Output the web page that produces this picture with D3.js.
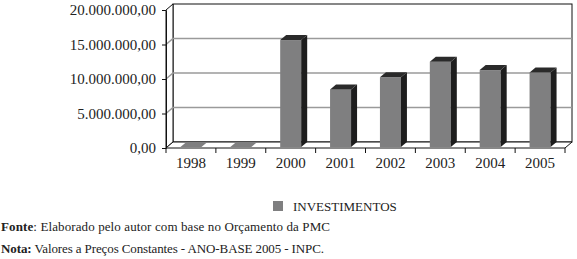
<!DOCTYPE html>
<html>
<head>
<meta charset="utf-8">
<script src="https://cdn.jsdelivr.net/npm/d3@7"></script>
<style>
  body { margin: 0; background: #fff; }
  svg text { font-family: "Liberation Serif", serif; fill: #222; }
</style>
</head>
<body>
<svg id="chart" width="577" height="259"></svg>
<script>
// data
const years = ["1998", "1999", "2000", "2001", "2002", "2003", "2004", "2005"];
const investimentos = [0, 0, 15500000, 8350000, 10100000, 12350000, 11150000, 10800000];
const yTicks = [0, 5000000, 10000000, 15000000, 20000000];
const seriesName = "INVESTIMENTOS";

const svg = d3.select("#chart");

// 3d depth of the walls and of the bars
const DX = 7, DY = -6;
const barDX = 6, barDY = -5;
const barW = 21;

const xScale = d3.scaleBand()
    .domain(years)
    .range([166, 565]);

const yScale = d3.scaleLinear()
    .domain([0, 20000000])
    .range([148, 10]);

const br = d3.formatLocale({decimal: ",", thousands: ".", grouping: [3], currency: ["R$", ""]});
const fmt = br.format(",.2f");

const x0 = xScale.range()[0], x1 = xScale.range()[1];
const y0 = yScale(0), yTop = yScale(20000000);

/***** WALLS *****/
// back wall
svg.append("rect")
    .attr("x", x0 + DX).attr("y", yTop + DY)
    .attr("width", x1 - x0).attr("height", y0 - yTop)
    .attr("fill", "#fff").attr("stroke", "#111").attr("stroke-width", 1);

// left wall
svg.append("polygon")
    .attr("points", [[x0, yTop], [x0 + DX, yTop + DY], [x0 + DX, y0 + DY], [x0, y0]].join(" "))
    .attr("fill", "#fff").attr("stroke", "#111").attr("stroke-width", 1);

// floor
svg.append("polygon")
    .attr("points", [[x0, y0], [x1, y0], [x1 + DX, y0 + DY], [x0 + DX, y0 + DY]].join(" "))
    .attr("fill", "#fff").attr("stroke", "#111").attr("stroke-width", 1);

// gridlines
svg.selectAll(".grid")
    .data(yTicks.filter(t => t > 0 && t < 20000000))
    .join("polyline")
    .attr("class", "grid")
    .attr("points", d => [[x0, yScale(d)], [x0 + DX, yScale(d) + DY], [x1 + DX, yScale(d) + DY]].join(" "))
    .attr("fill", "none").attr("stroke", "#9a9a9a").attr("stroke-width", 1.5);

/***** BARS *****/
const bars = svg.selectAll(".bar")
    .data(years.map((y, i) => ({year: y, value: investimentos[i]})))
    .join("g")
    .attr("class", "bar");

const bx = d => xScale(d.year) + (xScale.bandwidth() - barW) / 2;
const bTop = d => yScale(d.value) - 1;
const bBot = () => yScale(0) - 1;

bars.append("rect")
    .attr("x", bx).attr("y", bTop)
    .attr("width", barW).attr("height", d => bBot() - bTop(d))
    .attr("fill", "#7f7f80");

bars.append("polygon")
    .attr("points", d => {
        const r = bx(d) + barW;
        return [[r, bTop(d)], [r + barDX, bTop(d) + barDY], [r + barDX, bBot() + barDY], [r, bBot()]].join(" ");
    })
    .attr("fill", "#1d1d1d");

bars.append("polygon")
    .attr("points", d => {
        const l = bx(d), r = l + barW, t = bTop(d);
        return [[l, t], [l + barDX, t + barDY], [r + barDX, t + barDY], [r, t]].join(" ");
    })
    .attr("fill", d => d.value === 0 ? "#7f7f80" : "#2a2a2a");

/***** AXES *****/
const yAxis = svg.append("g")
    .attr("transform", `translate(${x0},0)`)
    .call(d3.axisLeft(yScale).tickValues(yTicks).tickFormat(fmt).tickSize(4).tickPadding(6).tickSizeOuter(0));
yAxis.select(".domain").attr("stroke", "#111");
yAxis.selectAll("line").attr("stroke", "#111");
yAxis.selectAll("text").style("font-size", "15px").attr("fill", "#222");

const xAxis = svg.append("g")
    .attr("transform", `translate(0,${y0})`)
    .call(d3.axisBottom(xScale).tickSize(0).tickPadding(9));
xAxis.select(".domain").remove();
xAxis.selectAll("text").style("font-size", "15px").attr("fill", "#222");

// ticks on band edges
svg.selectAll(".xtick")
    .data(years.concat(["end"]))
    .join("line")
    .attr("class", "xtick")
    .attr("x1", (d, i) => x0 + i * xScale.step())
    .attr("x2", (d, i) => x0 + i * xScale.step())
    .attr("y1", y0).attr("y2", y0 + 5)
    .attr("stroke", "#111");

/***** LEGEND *****/
svg.append("rect")
    .attr("x", 273).attr("y", 201).attr("width", 10).attr("height", 10)
    .attr("fill", "#7f7f80");
svg.append("text")
    .attr("x", 293).attr("y", 211)
    .style("font-size", "13px")
    .text(seriesName);

/***** FOOTER *****/
const foot = [
    {bold: "Fonte", rest: ": Elaborado pelo autor com base no Orçamento da PMC", y: 231, w: 329},
    {bold: "Nota:", rest: " Valores a Preços Constantes - ANO-BASE 2005 - INPC.", y: 253, w: 323}
];
foot.forEach(f => {
    const t = svg.append("text")
        .attr("x", 1).attr("y", f.y)
        .attr("textLength", f.w).attr("lengthAdjust", "spacing")
        .style("font-size", "13px").attr("fill", "#333");
    t.append("tspan").style("font-weight", "bold").text(f.bold);
    t.append("tspan").text(f.rest);
});
</script>
</body>
</html>
